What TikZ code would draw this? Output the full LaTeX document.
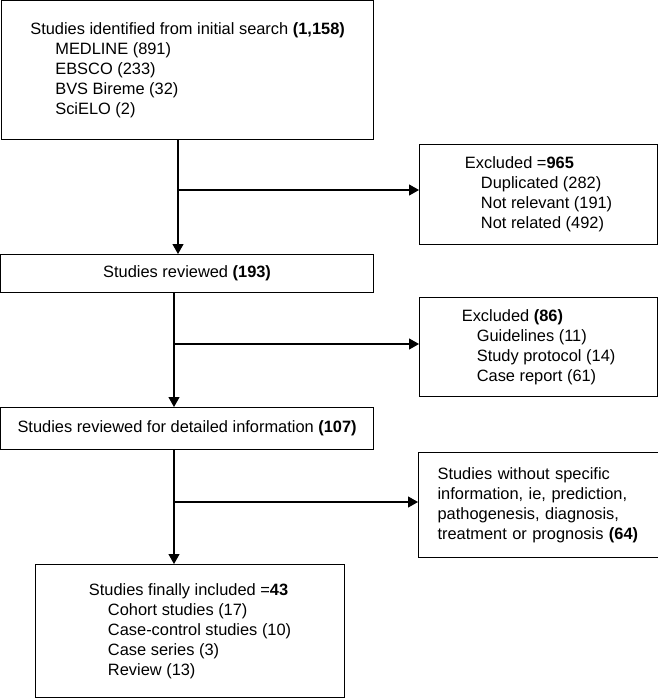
\documentclass[tikz,border=0pt]{standalone}
\usepackage{fontspec}
\setmainfont{Liberation Sans}
\usepackage{xcolor}
\usetikzlibrary{arrows.meta}

\newcommand{\boxfont}{\fontsize{16.4}{20}\selectfont}

\begin{document}
\begin{tikzpicture}[x=1pt, y=-1pt,
                    every path/.style={line width=1.2pt},
                    box/.style={draw, anchor=north west, inner ysep=0pt, font=\boxfont},
                    listbox/.style={box, align=left},
                    onebox/.style={box, align=center, minimum width=373pt},
                    arr/.style={-{Triangle[length=10pt, width=11pt]}}]

  \useasboundingbox (0,0) rectangle (658,699);

  % === Main column (Left) ===
  \node[listbox, minimum width=372pt, minimum height=139pt] (src) at (1,0)
    {Studies identified from initial search \textbf{(1,158)}\\
     \hspace*{25pt}MEDLINE (891)\\
     \hspace*{25pt}EBSCO (233)\\
     \hspace*{25pt}BVS Bireme (32)\\
     \hspace*{25pt}SciELO (2)};
  \node[onebox, minimum height=38pt] (rev) at (0,254) {Studies reviewed \textbf{(193)}};
  \node[onebox, minimum height=42pt] (det) at (0,407)
    {Studies reviewed for detailed information \textbf{(107)}};
  \node[listbox, minimum width=309pt, minimum height=133pt] (fin) at (35,564)
    {Studies finally included =\textbf{43}\\
     \hspace*{19pt}Cohort studies (17)\\
     \hspace*{19pt}Case-control studies (10)\\
     \hspace*{19pt}Case series (3)\\
     \hspace*{19pt}Review (13)};

  % === Exclusions (Right) ===
  \node[listbox, minimum width=238pt, minimum height=100pt] (exA) at (419,144)
    {Excluded =\textbf{965}\\
     \hspace*{16pt}Duplicated (282)\\
     \hspace*{16pt}Not relevant (191)\\
     \hspace*{16pt}Not related (492)};
  \node[listbox, minimum width=238pt, minimum height=99pt] (exB) at (419,297)
    {Excluded \textbf{(86)}\\
     \hspace*{15pt}Guidelines (11)\\
     \hspace*{15pt}Study protocol (14)\\
     \hspace*{15pt}Case report (61)};
  \node[listbox, text width=202pt, inner xsep=19pt, minimum height=105pt] (exC) at (418,452)
    {Studies without specific\\
     information, ie, prediction,\\
     pathogenesis, diagnosis,\\
     treatment or prognosis \textbf{(64)}};

  % === Arrows ===
  \coordinate (t1) at (178,0);
  \coordinate (t2) at (174,0);
  \coordinate (j1) at (178,190);
  \coordinate (j2) at (174,344);
  \coordinate (j3) at (174,502);

  \draw[arr] (t1 |- src.south) -- (t1 |- rev.north);
  \draw[arr] (t2 |- rev.south) -- (t2 |- det.north);
  \draw[arr] (t2 |- det.south) -- (t2 |- fin.north);

  \draw[arr] (j1) -- (j1 -| exA.west);
  \draw[arr] (j2) -- (j2 -| exB.west);
  \draw[arr] (j3) -- (j3 -| exC.west);

\end{tikzpicture}
\end{document}
